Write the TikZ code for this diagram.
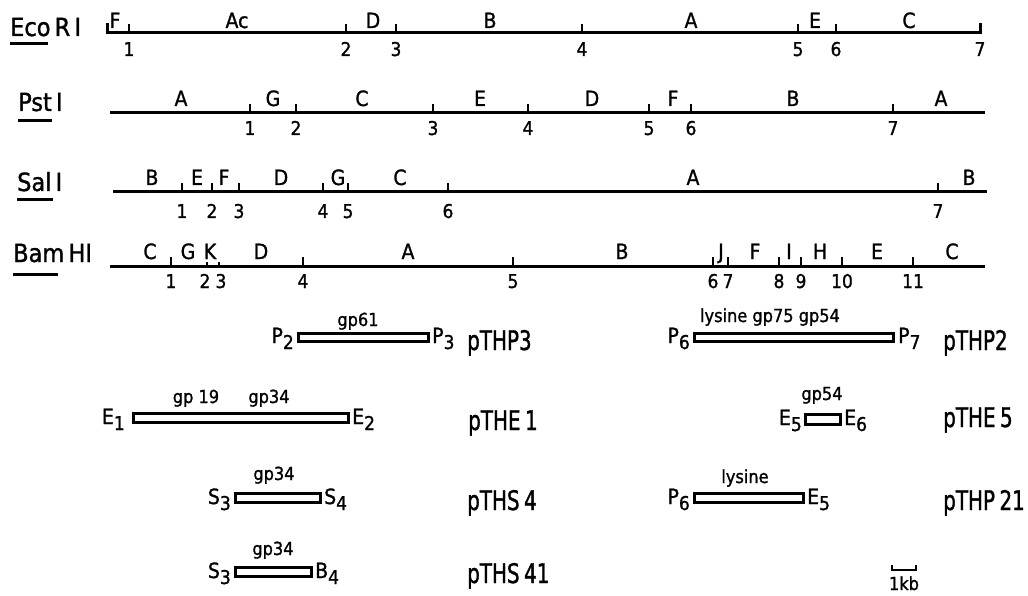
\documentclass[tikz,border=0pt]{standalone}
\usepackage{fontspec}
\setmainfont[FakeBold=1.2]{DejaVu Sans Condensed}
\newfontfamily\plabfont[FakeBold=1.2,FakeStretch=0.82]{DejaVu Sans Condensed}
\newcommand\sbx[1]{\raisebox{-6pt}{\fontsize{19}{19}\selectfont #1}}
\begin{document}
\begin{tikzpicture}[x=1pt,y=-1pt,
  mapline/.style={line width=3pt},
  tick/.style={line width=2.6pt},
  uline/.style={line width=3pt},
  seg/.style={font=\fontsize{21}{21}\selectfont, anchor=base, inner sep=0pt},
  num/.style={font=\fontsize{19}{19}\selectfont, anchor=base, inner sep=0pt},
  enz/.style={font=\fontsize{25}{25}\selectfont, anchor=base west, inner sep=0pt},
  clone/.style={draw, line width=3pt},
  gene/.style={font=\fontsize{18}{18}\selectfont, anchor=base, inner sep=0pt},
  plab/.style={font=\plabfont\fontsize{27}{27}\selectfont, anchor=base west, inner sep=0pt},
  endl/.style={font=\fontsize{21}{21}\selectfont, anchor=base east, inner sep=0pt},
  endr/.style={font=\fontsize{21}{21}\selectfont, anchor=base west, inner sep=0pt},
]
\useasboundingbox (0,0) rectangle (1028,596);

% ---------- EcoRI ----------
\node[enz] (eco) at (10,36) {Eco\,R\,I};
\draw[uline] (10,44) -- (48,44);
\draw[mapline] (107,23) -- (107,33) -- (980,33) -- (980,23);
\foreach \x/\n in {129/1,346/2,396/3,582/4,798/5,836/6}{
  \draw[tick] (\x,33) -- (\x,24);
  \node[num] (en\n) at (\x,56) {\n};
}
\node[num] (en7) at (980,56) {7};
\foreach \x/\l [count=\i] in {115/F,237/Ac,373/D,490/B,691/A,815/E,909/C}
  \node[seg] (es\i) at (\x,28) {\l};

% ---------- PstI ----------
\node[enz] (pst) at (18,111) {Pst\,I};
\draw[uline] (18,121) -- (52,121);
\draw[mapline] (110,113) -- (985,113);
\foreach \x/\n in {250/1,296/2,433/3,528/4,649/5,691/6,893/7}{
  \draw[tick] (\x,113) -- (\x,104);
  \node[num] (pn\n) at (\x,135) {\n};
}
\foreach \x/\l [count=\i] in {181/A,273/G,362/C,480/E,592/D,673/F,793/B,941/A}
  \node[seg] (ps\i) at (\x,106) {\l};

% ---------- SalI ----------
\node[enz] (sal) at (17,191) {Sal\,I};
\draw[uline] (17,200) -- (53,200);
\draw[mapline] (113,192) -- (987,192);
\foreach \x/\n in {182/1,212/2,239/3,323/4,348/5,448/6,938/7}{
  \draw[tick] (\x,192) -- (\x,183);
  \node[num] (sn\n) at (\x,218) {\n};
}
\foreach \x/\l [count=\i] in {152/B,197/E,224/F,281/D,338/G,400/C,693/A,969/B}
  \node[seg] (ss\i) at (\x,185) {\l};

% ---------- BamHI ----------
\node[enz] (bam) at (13,262) {Bam\,HI};
\draw[uline] (13,274) -- (58,274);
\draw[mapline] (110,266) -- (985,266);
\foreach \x/\n in {171/1,303/4,513/5,713/6,728/7,779/8,801/9,842/10,913/11}{
  \draw[tick] (\x,266) -- (\x,257);
  \node[num] (bn\n) at (\x,288) {\n};
}
\draw[tick] (207,266) -- (207,262);
\draw[tick] (219,266) -- (219,262);
\node[num] (bn2) at (205,288) {2};
\node[num] (bn3) at (221,288) {3};
\foreach \x/\l [count=\i] in {150/C,188/G,210/K,261/D,408/A,622/B,721/J,755/F,789/I,820/H,877/E,952/C}
  \node[seg] (bs\i) at (\x,259) {\l};

% ---------- clones ----------
% pTHP3
\draw[clone] (298.5,333.5) rectangle (428.5,341.5);
\node[endl] (p2) at (294,343) {P\sbx{2}};
\node[endr] (p3) at (432,343) {P\sbx{3}};
\node[gene] (g61) at (358,326) {gp61};
\node[plab] (thp3) at (467,350) {pTHP3};

% pTHP2
\draw[clone] (694.5,333.5) rectangle (893.5,341.5);
\node[endl] (p6a) at (690,343) {P\sbx{6}};
\node[endr] (p7) at (898,343) {P\sbx{7}};
\node[gene] (g75) at (770,322) {lysine gp75 gp54};
\node[plab] (thp2) at (943,350) {pTHP2};

% pTHE1
\draw[clone] (133.5,413.5) rectangle (348.5,422.5);
\node[endl] (e1) at (125,424) {E\sbx{1}};
\node[endr] (e2) at (352,424) {E\sbx{2}};
\node[gene] (g19) at (196,403) {gp 19};
\node[gene] (g34a) at (269,403) {gp34};
\node[plab] (the1) at (468,430) {pTHE\,1};

% pTHE5
\draw[clone] (805.5,414.5) rectangle (840.5,424.5);
\node[endl] (e5a) at (802,425) {E\sbx{5}};
\node[endr] (e6) at (844,425) {E\sbx{6}};
\node[gene] (g54) at (822,400) {gp54};
\node[plab] (the5) at (943,427) {pTHE\,5};

% pTHS4
\draw[clone] (235.5,493.5) rectangle (320.5,502.5);
\node[endl] (s3a) at (231,504) {S\sbx{3}};
\node[endr] (s4) at (324,504) {S\sbx{4}};
\node[gene] (g34b) at (274,480) {gp34};
\node[plab] (ths4) at (467,510) {pTHS\,4};

% pTHS41
\draw[clone] (235.5,567.5) rectangle (311.5,576.5);
\node[endl] (s3b) at (231,578) {S\sbx{3}};
\node[endr] (b4) at (315,578) {B\sbx{4}};
\node[gene] (g34c) at (273,555) {gp34};
\node[plab] (ths41) at (467,583) {pTHS\,41};

% pTHP21
\draw[clone] (694.5,493.5) rectangle (803.5,502.5);
\node[endl] (p6b) at (690,504) {P\sbx{6}};
\node[endr] (e5b) at (807,504) {E\sbx{5}};
\node[gene] (glys) at (745,483) {lysine};
\node[plab] (thp21) at (943,510) {pTHP\,21};

% scale bar
\draw[tick] (892,565) -- (892,570) -- (916,570) -- (916,565);
\node[gene] (kb) at (904,590) {1kb};
\end{tikzpicture}
\end{document}
